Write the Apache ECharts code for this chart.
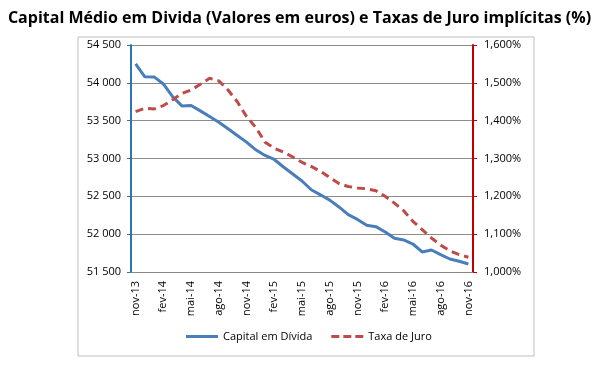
<!DOCTYPE html>
<html><head><meta charset="utf-8">
<script src="https://cdn.jsdelivr.net/npm/echarts@6/dist/echarts.min.js"></script>
<style>html,body{margin:0;padding:0;background:#fff}#c{width:599px;height:365px}</style>
</head><body><div id="c"></div>
<script>
const categories = ['nov-13','dez-13','jan-14','fev-14','mar-14','abr-14','mai-14','jun-14','jul-14','ago-14','set-14','out-14','nov-14','dez-14','jan-15','fev-15','mar-15','abr-15','mai-15','jun-15','jul-15','ago-15','set-15','out-15','nov-15','dez-15','jan-16','fev-16','mar-16','abr-16','mai-16','jun-16','jul-16','ago-16','set-16','out-16','nov-16'];
const capitalEmDivida = [54250,54080,54078,53985,53818,53695,53700,53629,53555,53480,53392,53304,53216,53115,53040,52987,52888,52796,52703,52587,52520,52450,52360,52258,52195,52117,52099,52029,51945,51923,51870,51765,51791,51730,51672,51642,51606];
const taxaDeJuro = [1.424,1.433,1.431,1.440,1.455,1.472,1.481,1.496,1.512,1.505,1.481,1.450,1.411,1.382,1.343,1.327,1.317,1.304,1.290,1.279,1.266,1.250,1.234,1.226,1.222,1.220,1.215,1.200,1.182,1.162,1.134,1.112,1.090,1.071,1.056,1.046,1.039];
const leftTicks = {min:51500, max:54500, interval:500};
const rightTicks = {min:1.0, max:1.6, interval:0.1};

const chart = echarts.init(document.getElementById('c'), null, {renderer:'canvas'});
const font = 'Open Sans';
function fmtLeft(v){const t=Math.floor(v/1000), r=String(v%1000).padStart(3,'0');return t+' '+r;}
function fmtRight(v){return v.toFixed(3).replace('.',',')+'%';}
chart.setOption({
  animation:false,
  textStyle:{fontFamily:font},
  title:{text:'Capital Médio em Divida (Valores em euros) e Taxas de Juro implícitas (%)',left:'center',top:5,
    textStyle:{fontFamily:font,fontWeight:'bold',fontSize:16,color:'#000'}},
  graphic:[{type:'rect',shape:{x:78,y:37,width:456,height:319},style:{fill:'none',stroke:'#bfbfbf',lineWidth:1},silent:true}],
  grid:{left:131,right:126,top:45,bottom:93},
  legend:{bottom:18,left:181,itemWidth:32,itemHeight:3,itemGap:19,
    textStyle:{fontFamily:font,fontSize:11,color:'#000'},
    data:[{name:'Capital em Dívida',icon:'path://M0,0H32V3H0Z'},{name:'Taxa de Juro',icon:'path://M0,0H8V3H0ZM12,0H20V3H12ZM24,0H32V3H24Z'}]},
  xAxis:{type:'category',data:categories,boundaryGap:true,
    axisLine:{lineStyle:{color:'#868686'}},
    axisTick:{interval:2,length:5,lineStyle:{color:'#868686'}},
    axisLabel:{interval:2,rotate:90,fontSize:11,color:'#000',margin:9,fontFamily:font}},
  yAxis:[{type:'value',min:leftTicks.min,max:leftTicks.max,interval:leftTicks.interval,
      axisLine:{show:true,lineStyle:{color:'#2E75B6',width:2}},
      axisTick:{show:true,length:4,lineStyle:{color:'#2E75B6'}},
      splitLine:{lineStyle:{color:'#8c8c8c',width:1}},
      axisLabel:{formatter:fmtLeft,fontSize:11,color:'#000',margin:10,fontFamily:font}},
    {type:'value',position:'right',min:rightTicks.min,max:rightTicks.max,interval:rightTicks.interval,
      axisLine:{show:true,lineStyle:{color:'#C00000',width:2}},
      axisTick:{show:true,length:4,lineStyle:{color:'#C00000'}},
      splitLine:{show:false},
      axisLabel:{formatter:fmtRight,fontSize:11,color:'#000',margin:11,fontFamily:font}}],
  series:[
    {name:'Capital em Dívida',type:'line',yAxisIndex:0,data:capitalEmDivida,symbol:'none',
      lineStyle:{color:'#4A7EBB',width:3},itemStyle:{color:'#4A7EBB'}},
    {name:'Taxa de Juro',type:'line',yAxisIndex:1,data:taxaDeJuro,symbol:'none',
      lineStyle:{color:'#BE4B48',width:3,type:[8,5]},itemStyle:{color:'#BE4B48'}}
  ]
});
</script></body></html>
